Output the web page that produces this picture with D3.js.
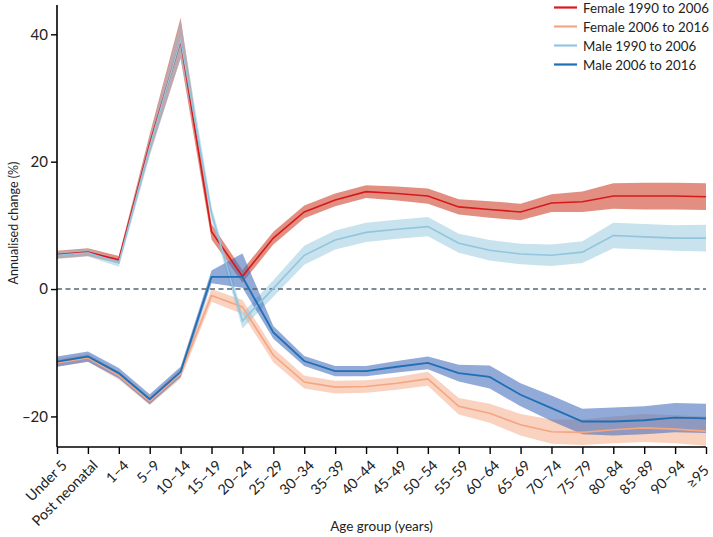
<!DOCTYPE html>
<html>
<head>
<meta charset="utf-8">
<script src="https://cdn.jsdelivr.net/npm/d3@7"></script>
<style>
  html, body { margin: 0; padding: 0; background: #fff; }
  svg { display: block; font-family: Lato, "Open Sans", sans-serif; }
</style>
</head>
<body>
<svg id="chart" width="713" height="537"></svg>
<script>
const categories = ["Under 5","Post neonatal","1–4","5–9","10–14","15–19","20–24","25–29","30–34","35–39","40–44","45–49","50–54","55–59","60–64","65–69","70–74","75–79","80–84","85–89","90–94","≥95"];

const female1990 = [5.4, 5.8, 4.6, 22.8, 39.0, 9.0, 2.0, 8.0, 12.1, 14.0, 15.3, 15.0, 14.6, 12.9, 12.5, 12.1, 13.5, 13.7, 14.6, 14.6, 14.6, 14.5];
const female1990Lo = [4.8, 5.2, 4.0, 21.3, 36.2, 7.8, 1.0, 7.0, 11.1, 13.0, 14.3, 13.9, 13.4, 11.7, 11.2, 10.8, 12.1, 12.1, 12.6, 12.5, 12.5, 12.4];
const female1990Hi = [6.0, 6.4, 5.2, 24.3, 42.6, 10.2, 3.0, 9.0, 13.1, 15.0, 16.3, 16.1, 15.8, 14.1, 13.8, 13.4, 14.9, 15.3, 16.6, 16.7, 16.7, 16.6];

const female2006 = [-11.6, -10.8, -13.6, -17.6, -13.3, -1.0, -2.8, -10.4, -14.6, -15.4, -15.3, -14.8, -14.1, -18.4, -19.5, -21.3, -22.4, -22.5, -22.1, -21.8, -22.0, -22.3];
const female2006Lo = [-12.2, -11.4, -14.2, -18.2, -14.1, -2.0, -3.9, -11.5, -15.6, -16.4, -16.3, -15.8, -15.2, -19.7, -21.0, -23.0, -24.3, -24.5, -24.2, -24.0, -24.2, -24.6];
const female2006Hi = [-11.0, -10.2, -13.0, -17.0, -12.5, 0.0, -1.7, -9.3, -13.6, -14.4, -14.3, -13.8, -13.0, -17.1, -18.0, -19.6, -20.5, -20.5, -20.0, -19.6, -19.8, -20.0];

const male1990 = [5.3, 5.7, 4.1, 22.3, 39.2, 11.9, -5.0, 0.1, 5.3, 7.7, 8.9, 9.4, 9.8, 7.2, 6.1, 5.5, 5.3, 5.8, 8.4, 8.2, 8.0, 8.0];
const male1990Lo = [4.7, 5.1, 3.5, 20.8, 36.3, 10.9, -6.2, -1.2, 3.8, 6.2, 7.4, 7.9, 8.3, 5.7, 4.5, 3.9, 3.6, 4.1, 6.4, 6.2, 6.0, 5.9];
const male1990Hi = [5.9, 6.3, 4.7, 23.8, 42.2, 12.9, -3.8, 1.4, 6.8, 9.2, 10.4, 10.9, 11.3, 8.7, 7.7, 7.1, 7.0, 7.5, 10.4, 10.2, 10.0, 10.1];

const male2006 = [-11.4, -10.6, -13.2, -17.3, -13.0, 1.9, 1.9, -6.8, -11.3, -12.9, -12.9, -12.2, -11.6, -13.2, -13.8, -16.6, -18.7, -20.8, -20.8, -20.6, -20.2, -20.3];
const male2006Lo = [-12.2, -11.4, -14.0, -18.1, -13.8, 0.9, 0.2, -7.8, -12.1, -13.7, -13.7, -13.1, -12.6, -14.5, -15.6, -18.4, -20.7, -22.8, -23.0, -22.8, -22.5, -22.6];
const male2006Hi = [-10.6, -9.8, -12.4, -16.5, -12.2, 2.9, 5.6, -5.8, -10.5, -12.1, -12.1, -11.3, -10.6, -11.9, -12.0, -14.8, -16.7, -18.8, -18.6, -18.4, -17.9, -18.0];

const yTicks = [-20, 0, 20, 40];

const series = [
  { name: "Female 1990 to 2006", v: female1990, lo: female1990Lo, hi: female1990Hi, line: "#d7191c", band: "#d6604d", op: 0.7, lw: 1.6 },
  { name: "Female 2006 to 2016", v: female2006, lo: female2006Lo, hi: female2006Hi, line: "#f4a582", band: "#f4a582", op: 0.5, lw: 1.6 },
  { name: "Male 1990 to 2006", v: male1990, lo: male1990Lo, hi: male1990Hi, line: "#92c5de", band: "#92c5de", op: 0.5, lw: 1.6 },
  { name: "Male 2006 to 2016", v: male2006, lo: male2006Lo, hi: male2006Hi, line: "#1f6fb4", band: "#4a72bd", op: 0.6, lw: 1.8 }
];

const svg = d3.select("#chart");
const mLeft = 57, mRight = 706, mTop = 5, mBottom = 447;

const x = d3.scalePoint().domain(categories).range([mLeft, mRight]).padding(0);
const y = d3.scaleLinear().domain([-24.8, 44.6]).range([mBottom, mTop]);

// bands
const area = (s) => d3.area()
  .x((d, i) => x(categories[i]))
  .y0((d, i) => y(s.lo[i]))
  .y1((d, i) => y(s.hi[i]));

series.forEach(s => {
  svg.append("path")
    .datum(s.v)
    .attr("d", area(s))
    .attr("fill", s.band)
    .attr("fill-opacity", s.op);
});

// zero line
svg.append("line")
  .attr("x1", mLeft).attr("x2", mRight)
  .attr("y1", y(0)).attr("y2", y(0))
  .attr("stroke", "#4f6878")
  .attr("stroke-width", 1.6)
  .attr("stroke-dasharray", "5,3.5");

// lines
series.forEach(s => {
  svg.append("path")
    .datum(s.v)
    .attr("d", d3.line().x((d, i) => x(categories[i])).y(d => y(d)))
    .attr("fill", "none")
    .attr("stroke", s.line)
    .attr("stroke-width", s.lw);
});

// axes
const yAxis = svg.append("g")
  .attr("transform", `translate(${mLeft},0)`)
  .call(d3.axisLeft(y).tickValues(yTicks).tickSize(6).tickPadding(3).tickFormat(d => d < 0 ? "–" + Math.abs(d) : d));
yAxis.select(".domain").attr("d", `M0,${mTop}V${mBottom}`).attr("stroke", "#000").attr("stroke-width", 1.6);
yAxis.selectAll(".tick line").attr("stroke", "#000").attr("stroke-width", 1.4);
yAxis.selectAll(".tick text").attr("font-size", 15).attr("fill", "#222").attr("font-family", "Lato, sans-serif");

const xAxis = svg.append("g")
  .attr("transform", `translate(0,${mBottom})`)
  .call(d3.axisBottom(x).tickSize(7).tickPadding(4));
xAxis.select(".domain").attr("d", `M${mLeft},0H${mRight}`).attr("stroke", "#000").attr("stroke-width", 1.6);
xAxis.selectAll(".tick line").attr("stroke", "#000").attr("stroke-width", 1.4);
const xt = xAxis.selectAll(".tick text")
  .attr("font-size", 14)
  .attr("fill", "#222")
  .attr("font-family", "Lato, sans-serif")
  .attr("text-anchor", "end")
  .attr("dy", "0.35em")
  .attr("transform", (d, i) => i === categories.length - 1 ? "translate(-8,13) rotate(-45)" : "translate(-1,8) rotate(-45)");
// fit "Post neonatal" to ~86px like the reference
let pnW = 0;
xt.each(function(d) { if (d === "Post neonatal") pnW = this.getComputedTextLength(); });
const xtSize = pnW > 0 ? Math.min(16, 14 * 86 / pnW) : 14;
xt.attr("font-size", xtSize);

// axis titles
svg.append("text")
  .attr("transform", `translate(13,${(mTop + mBottom) / 2 - 3}) rotate(-90)`)
  .attr("text-anchor", "middle")
  .attr("dominant-baseline", "central")
  .attr("font-size", 12.5)
  .attr("fill", "#222")
  .text("Annualised change (%)");

svg.append("text")
  .attr("x", (mLeft + mRight) / 2)
  .attr("y", 531)
  .attr("text-anchor", "middle")
  .attr("font-size", 13.5)
  .attr("fill", "#222")
  .text("Age group (years)");

// legend
const leg = svg.append("g");
const legTexts = [];
series.forEach((s, i) => {
  const yy = 7.5 + i * 19;
  leg.append("line")
    .attr("x1", 554).attr("x2", 577)
    .attr("y1", yy).attr("y2", yy)
    .attr("stroke", s.line)
    .attr("stroke-width", 2.2);
  legTexts.push(leg.append("text")
    .attr("x", 583).attr("y", yy)
    .attr("dominant-baseline", "central")
    .attr("font-size", 15)
    .attr("fill", "#222")
    .text(s.name));
});
const lw0 = legTexts[0].node().getComputedTextLength();
const legSize = lw0 > 0 ? 15 * 126 / lw0 : 13.5;
legTexts.forEach(t => t.attr("font-size", legSize));
</script>
</body>
</html>
